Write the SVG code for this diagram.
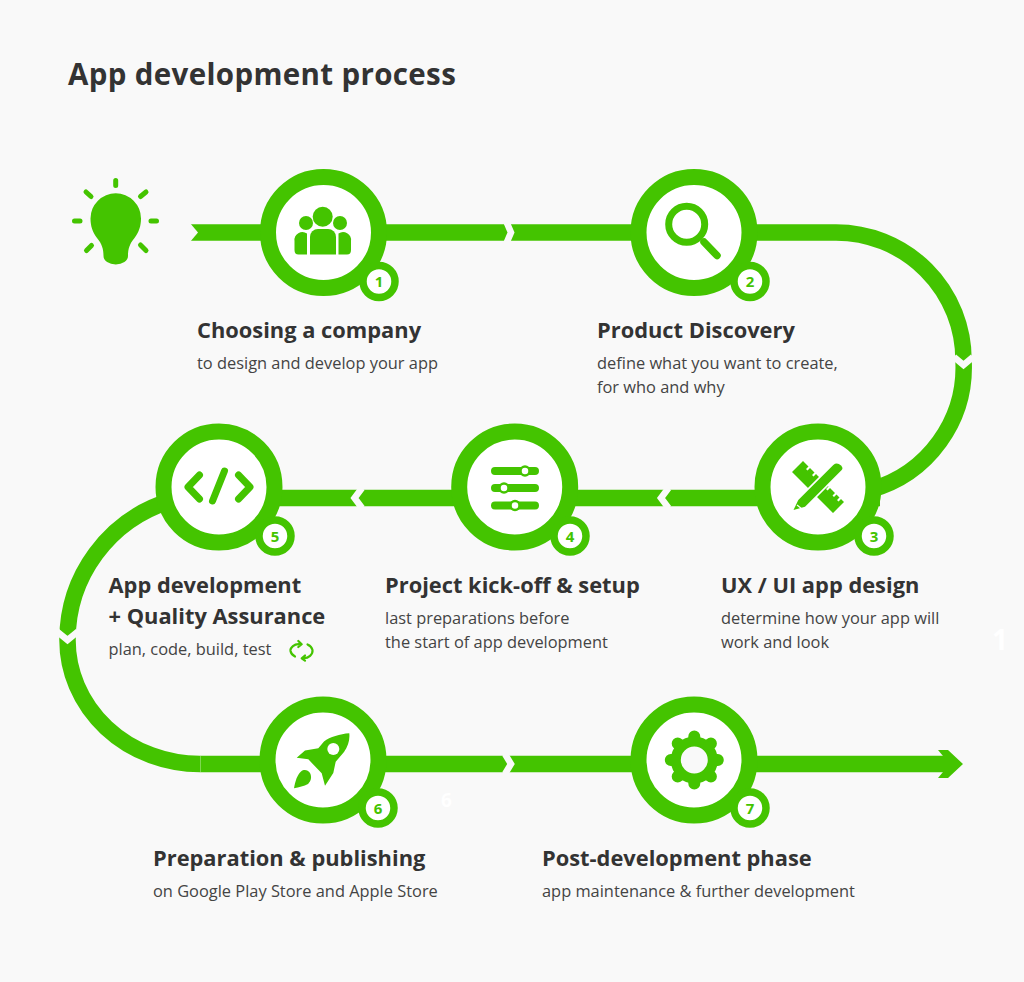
<svg xmlns="http://www.w3.org/2000/svg" width="1024" height="982" viewBox="0 0 1024 982">
<defs>
<style>
.bg{fill:#f9f9f9}
.line{fill:none;stroke:#44c400;stroke-width:16.5}
.gap{fill:none;stroke:#f9f9f9;stroke-width:6.5;stroke-miterlimit:10}
.ring{fill:#fff;stroke:#44c400;stroke-width:16}
.badge{fill:#fff;stroke:#44c400;stroke-width:7.5}
.num{font:700 15px "Open Sans",sans-serif;fill:#44c400;text-anchor:middle}
.g{fill:#44c400}
.s{fill:none;stroke:#44c400;stroke-linecap:round;stroke-linejoin:round}
.title{font:700 29.5px "Open Sans",sans-serif;fill:#333;letter-spacing:.35px}
.h{font:700 21.85px "Open Sans",sans-serif;fill:#333}
.t{font:400 16.4px "Open Sans",sans-serif;fill:#444}
.ghost{font:700 19px "Open Sans",sans-serif;fill:#fff}
</style>
</defs>
<rect class="bg" width="1024" height="982"/>
<text class="title" x="68" y="85">App development process</text>
<g id="start-bulb">
<path class="g" d="M103.500 256 C103.500 249 102 244 97 238 C92.500 232 90.500 226 90.500 218.500 A25.200 25.200 0 0 1 141 218.500 C141 226 139 232 134.500 238 C129.500 244 128 249 128 256 A12.250 8.500 0 0 1 103.500 256Z"/>
<path class="s" stroke-width="5" d="M115.700 180.500V185.500M74.500 221H80M151 221H156.500M86 192L91 196.500M146 192L140.500 196.500M91.500 245.500L86.500 250.500M140.500 245L146 250.500"/>
</g>
<g id="connectors">
<path class="line" d="M190 232.500H640"/>
<path class="line" d="M750 232.500H836A127.500 127.500 0 0 1 963.500 360A127.500 127.500 0 0 1 870 490"/>
<path class="line" d="M880 498H200"/>
<path class="line" d="M170 501A145.300 145.300 0 0 0 67.500 640A132.500 124 0 0 0 200 764"/>
<path class="line" d="M200 764H944"/>
<polygon class="g" points="938,750 948,750 963,764 948,778 938,778 943,772 943,756"/>
<polygon class="bg" points="188,223 190,223 198,232.500 190,242 188,242"/>
<path class="gap" d="M506.500 222L511 232.500L506.500 243"/>
<path class="gap" d="M505 754L511 764L505 774"/>
<path class="gap" d="M668.500 488L661 498L668.500 508"/>
<path class="gap" d="M362 488L354.500 498L362 508"/>
<path class="gap" d="M954 357L963.500 365L973 357"/>
<path class="gap" d="M57 631.500L67.500 640L78 631.500"/>
<path d="M200.500 756V772" stroke="#7fd850" stroke-width="1" fill="none"/>
</g>
<g id="node-1">
<circle class="ring" cx="323.500" cy="232.500" r="55.500"/>
<circle class="g" cx="322.700" cy="216.700" r="10"/>
<circle class="g" cx="306" cy="223" r="7"/>
<circle class="g" cx="340" cy="223" r="7"/>
<path class="g" d="M310 254.500V237A8 8 0 0 1 318 229H328A8 8 0 0 1 336 237V254.500Z"/>
<path class="g" d="M294.500 250V241A8 8 0 0 1 307 233.500V254.500H298.500Q294.500 254.500 294.500 250Z"/>
<path class="g" d="M351 250V241A8 8 0 0 0 338.500 233.500V254.500H347Q351 254.500 351 250Z"/>
<circle class="badge" cx="379" cy="281.500" r="16"/>
<text class="num" x="379" y="287">1</text>
<text class="h" x="197" y="338">Choosing a company</text>
<text class="t" x="197" y="369">to design and develop your app</text>
</g>
<g id="node-2">
<circle class="ring" cx="694" cy="232.500" r="55.500"/>
<circle class="s" cx="686.700" cy="224.300" r="18" stroke-width="7"/>
<path class="s" stroke-width="7.500" d="M704 242L717 255.500"/>
<circle class="badge" cx="750" cy="281.500" r="16"/>
<text class="num" x="750" y="287">2</text>
<text class="h" x="597" y="338">Product Discovery</text>
<text class="t" x="597" y="369">define what you want to create,</text>
<text class="t" x="597" y="393">for who and why</text>
</g>
<g id="node-3">
<circle class="ring" cx="818" cy="487" r="55.500"/>
<path class="g" d="M803 461L792 472L833 513L844 502L841 499L838.500 501.500L837 500L839.500 497.500L836.500 494.500L834 497L832.500 495.500L835 493L830 488L827.500 490.500L826 489L828.500 486.500L822 480L819.500 482.500L818 481L820.500 478.500L816 474L813.500 476.500L812 475L814.500 472.500L810 468L807.500 470.500L806 469L808.500 466.500Z"/>
<path d="M801 504L838 467" fill="none" stroke="#fff" stroke-width="13"/>
<path class="g" d="M793.500 510L798.300 500L833.300 465Q837 462 841 465.500Q843.500 468 841.700 470L805 506.700Z"/>
<path d="M797 505L802 509" stroke="#fff" stroke-width="1.200" fill="none"/>
<circle class="badge" cx="874" cy="536" r="16"/>
<text class="num" x="874" y="541.500">3</text>
<text class="h" x="721" y="592.500">UX / UI app design</text>
<text class="t" x="721" y="624">determine how your app will</text>
<text class="t" x="721" y="648">work and look</text>
</g>
<g id="node-4">
<circle class="ring" cx="514.700" cy="487" r="55.500"/>
<path class="s" stroke-width="8" d="M495 471H535M495 488H535M495 505.500H535"/>
<g fill="#fff" stroke="#44c400" stroke-width="2.500">
<circle cx="525" cy="471" r="4.500"/>
<circle cx="504" cy="488" r="4.500"/>
<circle cx="515" cy="505.500" r="4.500"/>
</g>
<circle class="badge" cx="570" cy="536" r="16"/>
<text class="num" x="570" y="541.500">4</text>
<text class="h" x="385" y="592.500">Project kick-off &amp; setup</text>
<text class="t" x="385" y="624">last preparations before</text>
<text class="t" x="385" y="648">the start of app development</text>
</g>
<g id="node-5">
<circle class="ring" cx="219" cy="487" r="55.500"/>
<path class="s" stroke-width="7" d="M199.500 475L188 487L199.500 499M238.500 475L250 487L238.500 499M224.500 471L212.500 501"/>
<circle class="badge" cx="275" cy="536" r="16"/>
<text class="num" x="275" y="541.500">5</text>
<text class="h" x="108.500" y="592.500">App development</text>
<text class="h" x="108.500" y="623.500">+ Quality Assurance</text>
<text class="t" x="108.500" y="655">plan, code, build, test</text>
<path class="s" stroke-width="2.200" d="M301 644.500C294 643 290 648 290.500 651C291 653.500 292 655 295 656.500M298.300 641L301.700 644.200L298.300 647M302 658C309 659 313 654 312.500 650C312 648 311 646 307.500 644.500M305 655.500L301.700 658.300L305 660.700"/>
</g>
<g id="node-6">
<circle class="ring" cx="323" cy="760" r="55.500"/>
<path class="g" d="M349.300 733.300C340 734 330 737 324 741.500L318.300 748.300L305 750.500L296.700 757.700L308.300 759.300L321.700 773.300L325 785.700L333.300 773L335.700 761.700L344 752C348 746 350 740 349.300 733.300Z"/>
<circle cx="333.300" cy="749" r="6" fill="#fff"/>
<path class="g" d="M294 788.300C295 782 297 775 301 771.500C304 769 308 770 310 773C312 777 311 781 308 784C304 786 299 787.500 294 788.300Z"/>
<circle class="badge" cx="378" cy="808" r="16"/>
<text class="num" x="378" y="813.500">6</text>
<text class="h" x="153" y="866">Preparation &amp; publishing</text>
<text class="t" x="153" y="897">on Google Play Store and Apple Store</text>
</g>
<g id="node-7">
<circle class="ring" cx="694" cy="760" r="55.500"/>
<path class="s" stroke-width="12" d="M694.300 737.500V736.500M694.300 782.500V783.500M671.800 760H670.800M716.800 760H717.800M678.400 744.100L677.700 743.400M710.200 775.900L710.900 776.600M710.200 744.100L710.900 743.400M678.400 775.900L677.700 776.600"/>
<circle cx="694.300" cy="760" r="18.500" fill="#f9f9f9" stroke="#44c400" stroke-width="10"/>
<circle class="badge" cx="750" cy="808" r="16"/>
<text class="num" x="750" y="813.500">7</text>
<text class="h" x="542" y="866">Post-development phase</text>
<text class="t" x="542" y="897">app maintenance &amp; further development</text>
</g>
<text class="ghost" x="441" y="807">6</text>
<text class="ghost" x="992" y="650" style="font-size:28px">1</text>
</svg>
